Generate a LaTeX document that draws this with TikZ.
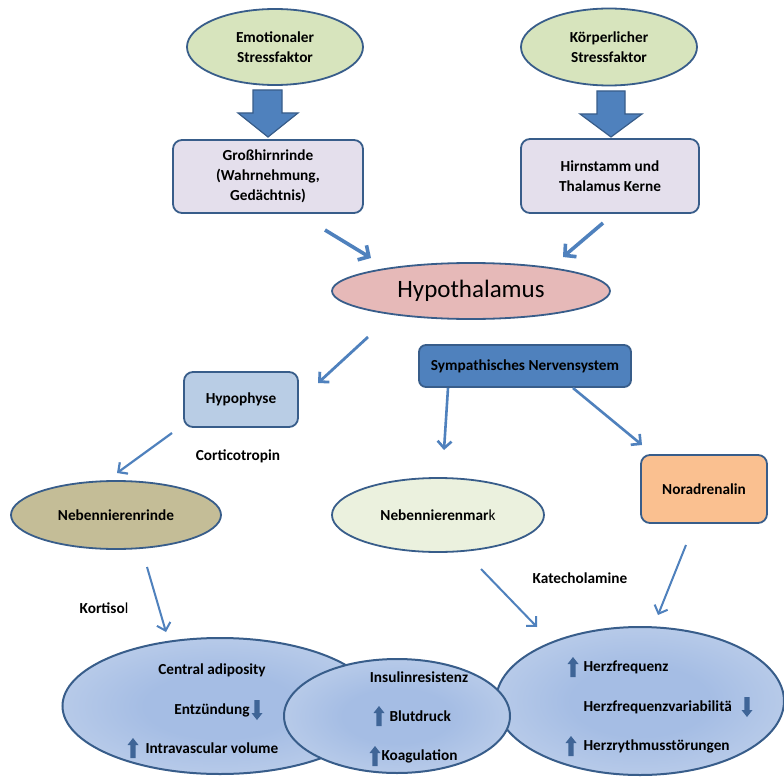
\documentclass[tikz,border=0pt]{standalone}
\usepackage{fontspec}
\setmainfont{Carlito}
\usetikzlibrary{shapes.geometric,arrows.meta}
\definecolor{bordc}{HTML}{385D8A}
\definecolor{arrc}{HTML}{4F81BD}
\definecolor{greenfill}{HTML}{D7E4BD}
\definecolor{lilac}{HTML}{E4DFEC}
\definecolor{pinkfill}{HTML}{E6B9B8}
\definecolor{sympfill}{HTML}{4F81BD}
\definecolor{hypofill}{HTML}{B9CDE5}
\definecolor{khaki}{HTML}{C4BD97}
\definecolor{palegreen}{HTML}{EBF1DE}
\definecolor{orangefill}{HTML}{FAC090}
\definecolor{innerblue}{HTML}{A5BDE4}
\definecolor{outerblue}{HTML}{D9E3F2}
\definecolor{smallarr}{HTML}{3F6597}
\pgfdeclareradialshading{softblue}{\pgfpoint{0bp}{0bp}}{color(0bp)=(innerblue); color(12bp)=(innerblue); color(50bp)=(outerblue); color(60bp)=(outerblue)}
\tikzset{
  txt/.style={font=\fontsize{15.3}{20}\selectfont\bfseries, align=center},
  ell/.style={ellipse, draw=bordc, line width=1.8pt, inner sep=0pt},
  rbox/.style={rectangle, rounded corners=9pt, draw=bordc, line width=1.8pt, inner sep=0pt},
  conn/.style={draw=arrc, line width=2.2pt, -{Straight Barb[length=7pt,width=14pt]}},
  connthick/.style={draw=arrc, line width=3.6pt, -{Straight Barb[length=8pt,width=17pt]}},
  blockarr/.style={fill=arrc, draw=bordc, line width=1.2pt},
  bottomell/.style={ellipse, draw=bordc, line width=2pt, inner sep=0pt, shading=softblue},
  uparrow/.pic={\fill[smallarr] (-2.6,10) -- (-2.6,-3) -- (-5.5,-3) -- (0,-10) -- (5.5,-3) -- (2.6,-3) -- (2.6,10) -- cycle;},
  downarrow/.pic={\fill[smallarr] (-2.6,-10) -- (-2.6,3) -- (-5.5,3) -- (0,10) -- (5.5,3) -- (2.6,3) -- (2.6,-10) -- cycle;}
}
\begin{document}
\begin{tikzpicture}[x=1pt,y=-1pt]
\useasboundingbox[fill=white] (0,0) rectangle (784,778);

% top ellipses
\node[ell, fill=greenfill, minimum width=176pt, minimum height=76pt, txt] (emo) at (275,47) {Emotionaler\\Stressfaktor};
\node[ell, fill=greenfill, minimum width=176pt, minimum height=77pt, txt] (koerp) at (609,47) {Körperlicher\\Stressfaktor};

% block arrows
\draw[blockarr] (253,90) -- (253,113) -- (238,113) -- (268,137) -- (298,113) -- (282,113) -- (282,90) -- cycle;
\draw[blockarr] (597,91) -- (597,114) -- (580,114) -- (611,137) -- (642,114) -- (625,114) -- (625,91) -- cycle;

% boxes
\node[rbox, fill=lilac, minimum width=190pt, minimum height=73pt, txt] (gross) at (268,176.5) {Großhirnrinde\\(Wahrnehmung,\\Gedächtnis)};
\node[rbox, fill=lilac, minimum width=178pt, minimum height=74pt, txt] (hirn) at (610,176) {Hirnstamm und\\Thalamus Kerne};

% hypothalamus
\node[ell, fill=pinkfill, minimum width=278pt, minimum height=56pt, font=\fontsize{25}{28}\selectfont] (hypoth) at (471,291) {Hypothalamus};

\coordinate (a1s) at (325,230); \coordinate (a1e) at (371,258);
\coordinate (a2s) at (603,223); \coordinate (a2e) at (563,257);
\draw[connthick] (a1s) -- (a1e);
\draw[connthick] (a2s) -- (a2e);

% sympathisches
\node[rbox, rounded corners=7pt, fill=sympfill, minimum width=212pt, minimum height=42pt, txt] (symp) at (525,366) {Sympathisches Nervensystem};

% hypophyse
\node[rbox, fill=hypofill, minimum width=114pt, minimum height=55pt, txt] (hypoph) at (241,399.5) {Hypophyse};
\coordinate (a3s) at (368,337); \coordinate (a3e) at (318,383);
\draw[conn, line width=2.8pt] (a3s) -- (a3e);

\coordinate (a4s) at (172,433); \coordinate (a4e) at (117,473);
\draw[conn] (a4s) -- (a4e);
\node[txt] (cortico) at (238,456) {Corticotropin};

% second row
\node[ell, fill=khaki, minimum width=210pt, minimum height=68pt, txt] (nnr) at (116,515) {Nebennierenrinde};
\node[ell, fill=palegreen, minimum width=212pt, minimum height=74pt, txt] (nnm) at (438,515) {Nebennierenmar\mdseries k};
\node[rbox, fill=orangefill, minimum width=126pt, minimum height=68pt, txt] (nora) at (704,489) {Noradrenalin};

\coordinate (a5s) at (448,388); \coordinate (a5e) at (444,450);
\coordinate (a6s) at (573,388); \coordinate (a6e) at (642,445);
\draw[conn, line width=2.6pt] (a5s) -- (a5e);
\draw[conn, line width=2.6pt] (a6s) -- (a6e);

% lower arrows
\coordinate (a7s) at (147,567); \coordinate (a7e) at (166,632);
\coordinate (a8s) at (481,569); \coordinate (a8e) at (537,627);
\coordinate (a9s) at (686,545); \coordinate (a9e) at (658,615);
\draw[conn, line width=2pt] (a7s) -- (a7e);
\draw[conn, line width=2pt] (a8s) -- (a8e);
\draw[conn, line width=2pt] (a9s) -- (a9e);
\node[txt] (kort) at (104,608) {Kortiso\mdseries l};
\node[txt] (kate) at (580,578) {Katecholamine};

% bottom ellipses
\node[bottomell, minimum width=315pt, minimum height=136pt] (eL) at (220,706) {};
\node[bottomell, minimum width=288pt, minimum height=148pt] (eR) at (640,701) {};
\node[bottomell, minimum width=226pt, minimum height=114pt] (eM) at (397,716) {};

% texts left
\node[txt] (t1) at (212,670) {Central adiposity};
\node[txt] (t2) at (212,710) {Entzündung};
\pic at (257,710) {downarrow};
\pic at (133,748) {uparrow};
\node[txt, anchor=west] (t3) at (142,748) {Intravascular volume};

% texts middle
\node[txt] (t4) at (419,677) {Insulinresistenz};
\pic at (379,716) {uparrow};
\node[txt, anchor=west] (t5) at (386,716) {Blutdruck};
\pic at (375,756) {uparrow};
\node[txt, anchor=west] (t6) at (378,756) {Koagulation};

% texts right
\pic at (573,667) {uparrow};
\node[txt, anchor=west] (t7) at (580,667) {Herzfrequenz};
\node[txt, anchor=west] (t8) at (580,707) {Herzfrequenzvariabilitä};
\pic at (747,707) {downarrow};
\pic at (571,746) {uparrow};
\node[txt, anchor=west] (t9) at (580,746) {Herzrythmusstörungen};
\end{tikzpicture}
\end{document}
